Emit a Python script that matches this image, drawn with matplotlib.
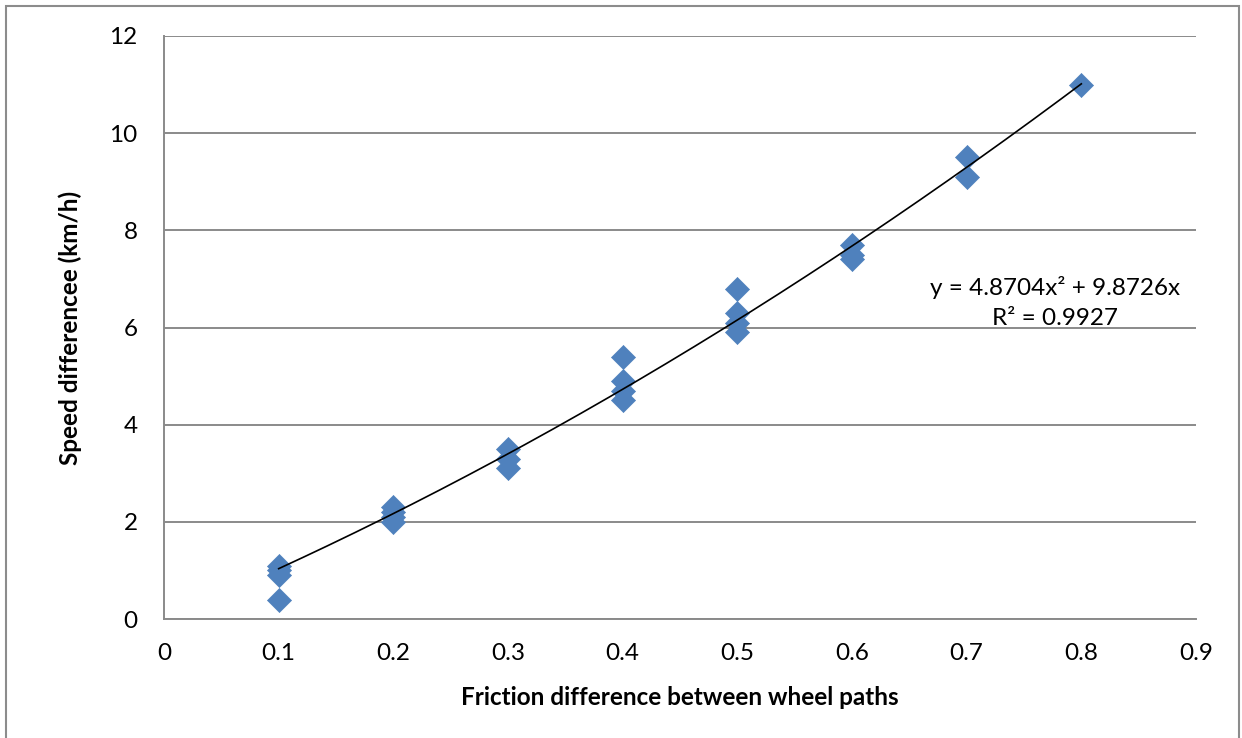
import numpy as np
import matplotlib
matplotlib.use("Agg")
import matplotlib.pyplot as plt
from matplotlib.patches import Rectangle

plt.rcParams['font.family'] = ['Lato', 'DejaVu Sans']

# Measured friction differences and the resulting speed differences
friction_diff = [0.1, 0.1, 0.1, 0.1,
                 0.2, 0.2, 0.2, 0.2,
                 0.3, 0.3, 0.3,
                 0.4, 0.4, 0.4, 0.4,
                 0.5, 0.5, 0.5, 0.5,
                 0.6, 0.6, 0.6,
                 0.7, 0.7,
                 0.8]
speed_diff = [1.1, 1.0, 0.9, 0.4,
              2.3, 2.2, 2.1, 2.0,
              3.5, 3.3, 3.1,
              5.4, 4.9, 4.7, 4.5,
              6.8, 6.3, 6.1, 5.9,
              7.7, 7.5, 7.4,
              9.5, 9.1,
              11.0]

# Polynomial trend (order 2, zero intercept)
coef_a = 4.8704
coef_b = 9.8726
r_squared = 0.9927

x_ticks = [0, 0.1, 0.2, 0.3, 0.4, 0.5, 0.6, 0.7, 0.8, 0.9]
y_ticks = [0, 2, 4, 6, 8, 10, 12]

fig = plt.figure(figsize=(12.42, 7.38), dpi=100)
fig.patch.set_facecolor('white')

# chart border
fig.add_artist(Rectangle((6 / 1242, -0.05), (1239 - 6) / 1242, 1.05 - 6 / 738,
                         transform=fig.transFigure, fill=False,
                         edgecolor='#8c8c8c', linewidth=1.5))

ax = fig.add_axes([164 / 1242, 1 - 619 / 738, (1196 - 164) / 1242, (619 - 36) / 738])

ax.set_xlim(0, 0.9)
ax.set_ylim(0, 12)
ax.set_xticks(x_ticks)
ax.set_xticklabels([f"{v:g}" for v in x_ticks])
ax.set_yticks(y_ticks)
ax.set_yticklabels([str(v) for v in y_ticks])

ax.grid(axis='y', color='#8a8a8a', linewidth=1.4)
ax.set_axisbelow(True)
for side in ('top', 'right'):
    ax.spines[side].set_visible(False)
for side in ('left', 'bottom'):
    ax.spines[side].set_color('#8a8a8a')
    ax.spines[side].set_linewidth(1.4)
ax.tick_params(length=0, labelsize=17.5, colors='black')
ax.tick_params(axis='x', pad=17)
ax.tick_params(axis='y', pad=19)

ax.scatter(friction_diff, speed_diff, marker='D', s=150, color='#4F81BD',
           edgecolors='#4F81BD', linewidths=0.5, zorder=3)

xs = np.linspace(min(friction_diff), max(friction_diff), 200)
ax.plot(xs, coef_a * xs ** 2 + coef_b * xs, color='black', linewidth=1.2, zorder=4)

ax.text(0.777, 6.83, f"y = {coef_a}x² + {coef_b}x", fontsize=17.5, ha='center', va='center')
ax.text(0.777, 6.19, f"R² = {r_squared}", fontsize=17.5, ha='center', va='center')

ax.set_xlabel("Friction difference between wheel paths", fontsize=17.5,
              fontweight='bold', labelpad=16)
ax.set_ylabel("Speed differencee (km/h)", fontsize=17.5, fontweight='bold', labelpad=20)

fig.savefig("out.png", dpi=100, facecolor='white')
